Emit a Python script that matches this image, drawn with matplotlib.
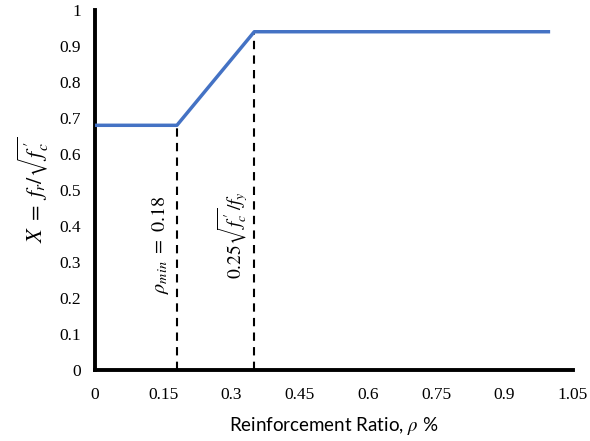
import matplotlib
matplotlib.use("Agg")
import matplotlib.pyplot as plt

# Data
rho = [0, 0.18, 0.35, 1.0]
X = [0.68, 0.68, 0.94, 0.94]
rho_min = 0.18
rho_lim = 0.35

xticks = [0, 0.15, 0.3, 0.45, 0.6, 0.75, 0.9, 1.05]
xtick_labels = ['0', '0.15', '0.3', '0.45', '0.6', '0.75', '0.9', '1.05']
yticks = [0, 0.1, 0.2, 0.3, 0.4, 0.5, 0.6, 0.7, 0.8, 0.9, 1.0]
ytick_labels = ['0', '0.1', '0.2', '0.3', '0.4', '0.5', '0.6', '0.7', '0.8', '0.9', '1']

plt.rcParams['mathtext.fontset'] = 'stix'

fig = plt.figure(figsize=(5.9, 4.41), dpi=100)
ax = fig.add_axes([0.161, 0.161, 0.81, 0.816])

ax.plot(rho, X, color='#4472C4', lw=2.5, solid_capstyle='butt', zorder=3)
ax.plot([rho_min, rho_min], [0, X[1]], color='black', ls=(0, (4, 3)), lw=1.5)
ax.plot([rho_lim, rho_lim], [0, X[2]], color='black', ls=(0, (4, 3)), lw=1.5)

ax.text(0.142, 0.347, r'$\rho_{min}\ =\ 0.18$', rotation=90, ha='center', va='center',
        fontsize=14.5)
ax.text(0.302, 0.375, r"$0.25\sqrt{f_c^{\,\prime}}/f_y$", rotation=90, ha='center', va='center',
        fontsize=14)

ax.set_xlim(0, 1.05)
ax.set_ylim(0, 1)
ax.set_xticks(xticks)
ax.set_xticklabels(xtick_labels, family='Liberation Serif', fontsize=12.5)
ax.set_yticks(yticks)
ax.set_yticklabels(ytick_labels, family='Liberation Serif', fontsize=12.5)
ax.tick_params(length=0, pad=12)
ax.tick_params(axis='y', pad=10)

for s in ['top', 'right']:
    ax.spines[s].set_visible(False)
for s in ['left', 'bottom']:
    ax.spines[s].set_linewidth(2.8)

ax.set_xlabel(r'Reinforcement Ratio, $\rho$ %', family='Lato', fontsize=13.5, labelpad=9)
ax.set_ylabel(r"$X\ =\ f_r/\sqrt{f_c^{\,\prime}}$", fontsize=16, labelpad=6)

fig.savefig('out.png', dpi=100)
